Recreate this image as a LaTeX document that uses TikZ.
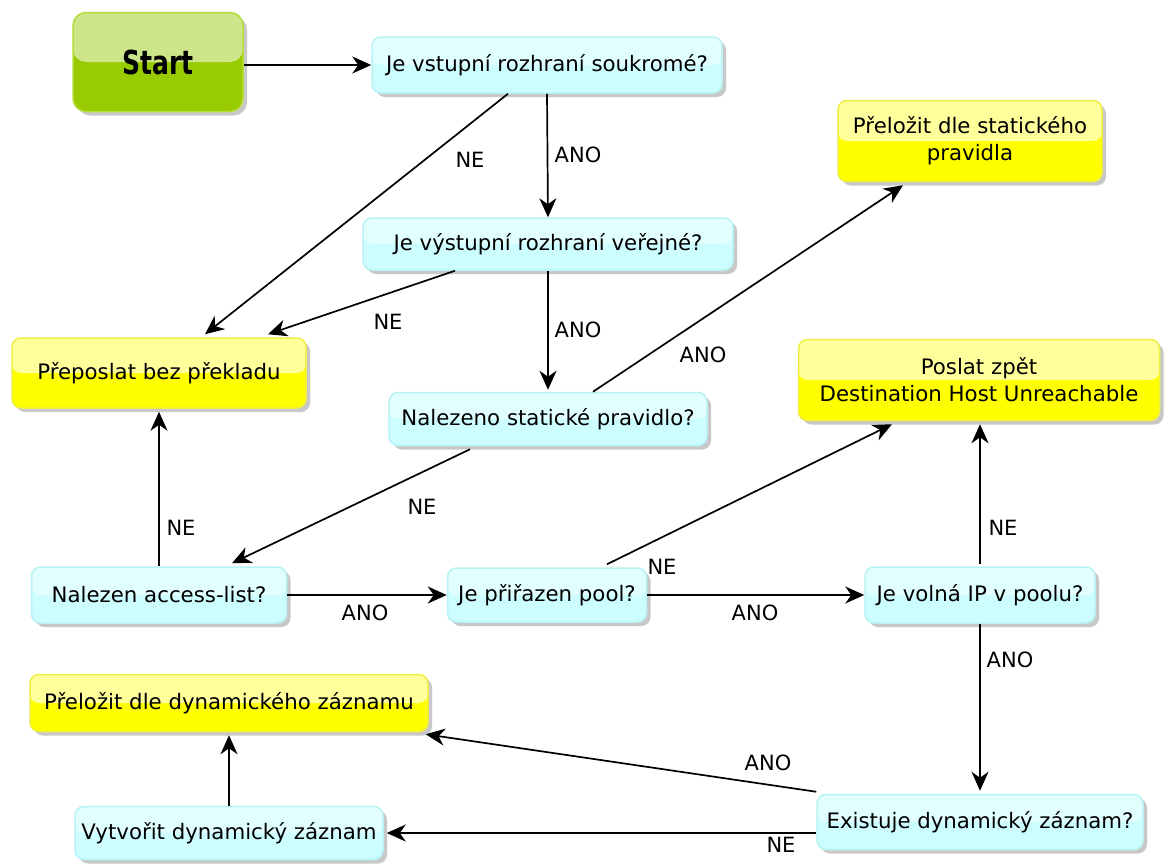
\documentclass[tikz,border=0pt]{standalone}
\usepackage{fontspec}
\setmainfont{DejaVu Sans}
\newfontfamily\startfont{DejaVu Sans}[FakeStretch=0.76]
\usetikzlibrary{arrows.meta,shadows}
\definecolor{cyanTop}{HTML}{E2FFFF}
\definecolor{cyanBot}{HTML}{CCFDFF}
\definecolor{cyanEdge}{HTML}{B8F2F4}
\definecolor{yelTop}{HTML}{FFFF9C}
\definecolor{yelBot}{HTML}{FFFF00}
\definecolor{yelEdge}{HTML}{EEEE44}
\definecolor{grnTop}{HTML}{CDE68A}
\definecolor{grnBot}{HTML}{99CC00}
\definecolor{grnEdge}{HTML}{B5DD3A}
\tikzset{
  box/.style={rounded corners=9pt, line width=1.5pt, align=center, inner sep=0pt,
    font=\fontsize{21.3}{27}\selectfont,
    drop shadow={shadow xshift=4pt, shadow yshift=-4pt, opacity=0.3, fill=black!70}},
  qbox/.style={box, draw=cyanEdge, fill=cyanBot,
    path picture={\fill[cyanTop] (path picture bounding box.north west) rectangle (path picture bounding box.east);}},
  ybox/.style={box, draw=yelEdge, fill=yelBot,
    path picture={\fill[yelTop] (path picture bounding box.north west) rectangle (path picture bounding box.east);}},
  gbox/.style={box, rounded corners=13pt, draw=grnEdge, fill=grnBot,
    font=\startfont\bfseries\fontsize{33}{36}\selectfont,
    path picture={\fill[grnTop] (path picture bounding box.north west) rectangle (path picture bounding box.east);}},
  arr/.style={line width=1.7pt, -{Stealth[length=19pt,width=17pt,inset=6pt]}},
  lab/.style={font=\fontsize{21}{24}\selectfont, inner sep=0pt},
}
\begin{document}
\begin{tikzpicture}[x=1pt,y=-1pt]
\useasboundingbox[fill=white] (0,0) rectangle (1164,863);
% nodes
\node[gbox, minimum width=170pt, minimum height=99pt] (start) at (158,62) {Start};
\node[qbox, minimum width=350pt, minimum height=56pt] (q1) at (547,65) {Je vstupní rozhraní soukromé?};
\node[qbox, minimum width=370pt, minimum height=52pt] (q2) at (548,244) {Je výstupní rozhraní veřejné?};
\node[ybox, minimum width=264pt, minimum height=81pt] (stat) at (970,141) {Přeložit dle statického\\pravidla};
\node[ybox, minimum width=294pt, minimum height=70pt] (fwd) at (159,373) {Přeposlat bez překladu};
\node[qbox, minimum width=318pt, minimum height=53pt] (q3) at (548,419) {Nalezeno statické pravidlo?};
\node[ybox, minimum width=361pt, minimum height=81pt] (dest) at (979,380) {Poslat zpět\\Destination Host Unreachable};
\node[qbox, minimum width=255pt, minimum height=56pt] (q4) at (159,595) {Nalezen access-list?};
\node[qbox, minimum width=199pt, minimum height=54pt] (q5) at (547,595) {Je přiřazen pool?};
\node[qbox, minimum width=230pt, minimum height=56pt] (q6) at (980,595) {Je volná IP v poolu?};
\node[ybox, minimum width=398pt, minimum height=57pt] (dyn) at (229,703) {Přeložit dle dynamického záznamu};
\node[qbox, minimum width=308pt, minimum height=53pt] (create) at (229,833) {Vytvořit dynamický záznam};
\node[qbox, minimum width=326pt, minimum height=55pt] (exist) at (980,822) {Existuje dynamický záznam?};
% connectors
\draw[arr] (start.east |- q1.west) -- (q1.west);
\draw[arr] (q1.south) -- (q2.north);
\draw[arr] ([xshift=-39pt]q1.south) -- ([xshift=46pt,yshift=3pt]fwd.north);
\draw[arr] ([xshift=-93pt]q2.south) -- ([xshift=109pt,yshift=3pt]fwd.north);
\draw[arr] (q2.south) -- ([yshift=2pt]q3.north);
\draw[arr] ([xshift=45pt]q3.north) -- ([xshift=-67pt,yshift=-3pt]stat.south);
\draw[arr] ([xshift=-78pt,yshift=-3pt]q3.south) -- ([xshift=73pt,yshift=3pt]q4.north);
\draw[arr] (q4.north) -- ([yshift=-3pt]fwd.south);
\draw[arr] (q4.east) -- (q5.west);
\draw[arr] ([xshift=60pt,yshift=3pt]q5.north) -- ([xshift=-87pt,yshift=-3pt]dest.south);
\draw[arr] (q5.east) -- (q6.west);
\draw[arr] ([yshift=2pt]q6.north) -- ([yshift=-3pt]q6.north |- dest.south);
\draw[arr] (q6.south) -- ([yshift=3pt]exist.north);
\draw[arr] ([yshift=2pt]exist.north west) -- ([xshift=-3pt,yshift=-2pt]dyn.south east);
\draw[arr] (exist.west |- create.east) -- ([xshift=3pt]create.east);
\draw[arr] (create.north) -- ([yshift=-3pt]dyn.south);
% labels
\node[lab] (l1) at (470,160) {NE};
\node[lab] (l2) at (578,155) {ANO};
\node[lab] (l3) at (388,322) {NE};
\node[lab] (l4) at (578,330) {ANO};
\node[lab] (l5) at (703,355) {ANO};
\node[lab] (l6) at (422,507) {NE};
\node[lab] (l7) at (181,528) {NE};
\node[lab] (l8) at (365,613) {ANO};
\node[lab] (l9) at (662,567) {NE};
\node[lab] (l10) at (755,613) {ANO};
\node[lab] (l11) at (1003,528) {NE};
\node[lab] (l12) at (1010,660) {ANO};
\node[lab] (l13) at (768,763) {ANO};
\node[lab] (l14) at (781,845) {NE};
\end{tikzpicture}
\end{document}
